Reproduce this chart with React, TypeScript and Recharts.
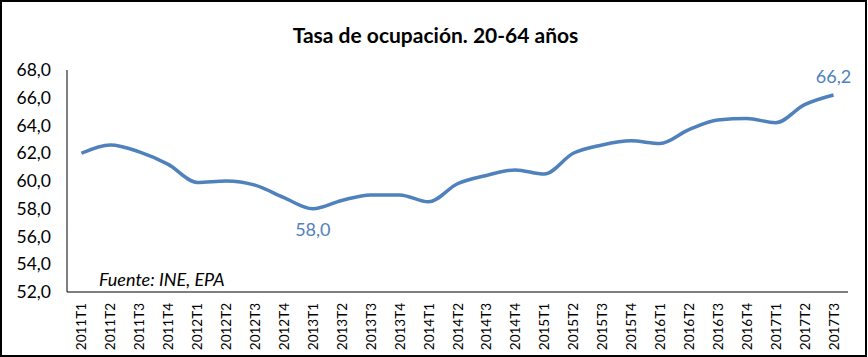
import React from "react";
import { LineChart, Line, XAxis, YAxis } from "recharts";

const quarters = [
  "2011T1", "2011T2", "2011T3", "2011T4",
  "2012T1", "2012T2", "2012T3", "2012T4",
  "2013T1", "2013T2", "2013T3", "2013T4",
  "2014T1", "2014T2", "2014T3", "2014T4",
  "2015T1", "2015T2", "2015T3", "2015T4",
  "2016T1", "2016T2", "2016T3", "2016T4",
  "2017T1", "2017T2", "2017T3",
];

const tasaOcupacion = [
  62.0, 62.6, 62.1, 61.2,
  59.9, 60.0, 59.7, 58.8,
  58.0, 58.6, 59.0, 59.0,
  58.5, 59.8, 60.4, 60.8,
  60.5, 62.0, 62.6, 62.9,
  62.7, 63.7, 64.4, 64.5,
  64.2, 65.5, 66.2,
];

const yTicks = [52, 54, 56, 58, 60, 62, 64, 66, 68];

// only these points get a value label (min and last)
const labelledPoints: Record<number, "below" | "above"> = { 8: "below", 26: "above" };

const chartData = quarters.map((q, i) => ({ q, value: tasaOcupacion[i] }));

const FONT = "Lato, 'Open Sans', sans-serif";
const LINE_COLOR = "#4F81BD";

const fmt = (v: number) => v.toFixed(1).replace(".", ",");

function QuarterTick(props: any) {
  const { x, y, payload } = props;
  return (
    <g transform={`translate(${x},${y})`}>
      <text
        transform="rotate(-90)"
        textAnchor="end"
        dominantBaseline="central"
        fill="#000"
        fontSize={13.5}
        fontFamily={FONT}
      >
        {payload.value}
      </text>
    </g>
  );
}

function PointLabel(props: any) {
  const { x, y, index, value } = props;
  const pos = labelledPoints[index];
  if (!pos) return null;
  return (
    <text
      x={x}
      y={pos === "below" ? y + 20 : y - 19}
      textAnchor="middle"
      dominantBaseline="central"
      fill={LINE_COLOR}
      fontSize={18}
      fontFamily={FONT}
    >
      {fmt(value)}
    </text>
  );
}

export default function App() {
  return (
    <div
      style={{
        position: "absolute",
        left: 0,
        top: 0,
        width: 867,
        height: 357,
        boxSizing: "border-box",
        border: "2px solid #000",
        background: "#fff",
        fontFamily: FONT,
      }}
    >
      <div
        style={{
          position: "absolute",
          left: 0,
          top: 20,
          width: 867,
          textAlign: "center",
          fontWeight: 700,
          fontSize: 21,
          color: "#000",
        }}
      >
        Tasa de ocupación. 20-64 años
      </div>
      <div style={{ position: "absolute", left: -2, top: -2 }}>
        <LineChart
          width={868}
          height={357}
          data={chartData}
          margin={{ top: 70, right: 20, bottom: 0, left: 0 }}
        >
          <XAxis
            dataKey="q"
            scale="band"
            interval={0}
            height={65}
            tickLine={false}
            tickSize={0}
            tickMargin={11}
            axisLine={{ stroke: "#000", strokeWidth: 1 }}
            tick={<QuarterTick />}
          />
          <YAxis
            domain={[52, 68]}
            ticks={yTicks}
            width={67}
            tickLine={false}
            tickSize={0}
            tickMargin={16}
            axisLine={{ stroke: "#000", strokeWidth: 1 }}
            tickFormatter={fmt}
            tick={{ fill: "#000", fontSize: 17.5, fontFamily: FONT }}
          />
          <Line
            type="monotone"
            dataKey="value"
            stroke={LINE_COLOR}
            strokeWidth={3.5}
            dot={false}
            activeDot={false}
            isAnimationActive={false}
            label={<PointLabel />}
          />
        </LineChart>
      </div>
      <div
        style={{
          position: "absolute",
          left: 97,
          top: 266,
          fontStyle: "italic",
          fontSize: 18,
          color: "#000",
        }}
      >
        Fuente: INE, EPA
      </div>
    </div>
  );
}
